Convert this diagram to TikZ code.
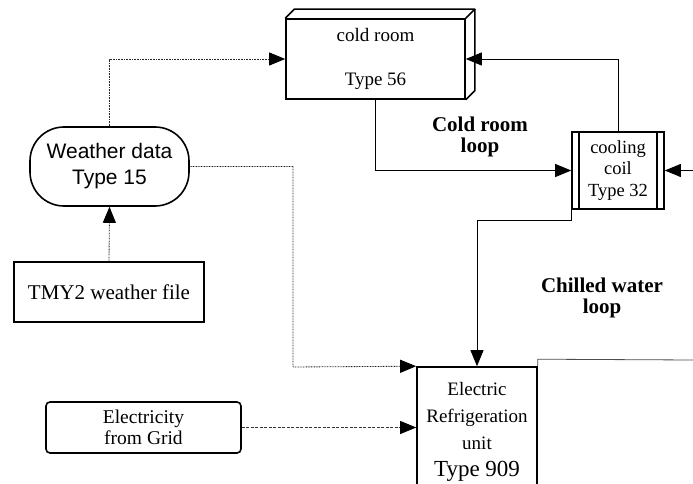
\documentclass[tikz,border=0pt]{standalone}
\usepackage{fontspec}
\setmainfont{Liberation Serif}
\newfontfamily\arialfont{Liberation Sans}
\usetikzlibrary{arrows.meta,calc}
\begin{document}
\begin{tikzpicture}[x=1pt,y=-1pt,
  box/.style={draw, line width=1.6pt, inner sep=0pt, align=center},
  conn/.style={line width=0.8pt},
  dotline/.style={line width=0.85pt, black!85, dash pattern=on 0.85pt off 0.75pt},
  dashline/.style={line width=0.9pt, black!80, dash pattern=on 3pt off 1.5pt},
  arr/.style={-{Triangle[length=16pt,width=13pt,color=black]}},
  lbl/.style={font=\bfseries\fontsize{21}{21}\selectfont, align=center}]
\useasboundingbox (0,0) rectangle (693,484);
\clip (0,0) rectangle (693,484);
% cold room
\node[box, minimum width=179pt, minimum height=80pt,
      font=\fontsize{19}{20}\selectfont] (cold) at (375.5,59)
      {cold room\\[24pt]Type 56};
\draw[line width=1.6pt, line join=round] (cold.north west) -- ++(9,-9) -- ($(cold.north east)+(9,-9)$) -- (cold.north east);
\draw[line width=1.6pt, line join=round] ($(cold.north east)+(9,-9)$) -- ($(cold.south east)+(9,-9)$) -- (cold.south east);
% cooling coil
\node[box, minimum width=92pt, minimum height=77pt,
      font=\fontsize{18.5}{21.5}\selectfont] (coil) at (618,170.5)
      {cooling\\coil\\Type 32};
\draw[line width=1.6pt] ($(coil.north west)+(8,0)$) -- ($(coil.south west)+(8,0)$);
\draw[line width=1.6pt] ($(coil.north east)+(-8,0)$) -- ($(coil.south east)+(-8,0)$);
% weather data
\node[box, minimum width=159pt, minimum height=79pt, rounded corners=34pt,
      font=\arialfont\fontsize{21}{26}\selectfont] (weather) at (109.5,166.5)
      {Weather data\\Type 15};
% TMY2
\node[box, minimum width=190pt, minimum height=60pt,
      font=\fontsize{21}{22}\selectfont] (tmy) at (109,292) {TMY2 weather file};
% electricity
\node[box, minimum width=195pt, minimum height=51pt, rounded corners=4pt,
      font=\fontsize{19.5}{21}\selectfont] (elec) at (143.5,427.5)
      {Electricity\\from Grid};
% electric refrigeration unit
\node[box, minimum width=120pt, minimum height=130pt,
      font=\fontsize{19}{27}\selectfont] (unit) at (477,432)
      {Electric\\Refrigeration\\unit\\{\fontsize{23}{26}\selectfont Type 909}};
% labels
\node[lbl] (lcold) at (480,137) {Cold room\\loop};
\node[lbl] (lchill) at (602,298) {Chilled water\\loop};
% coordinates
\coordinate (j1) at (293,367);
\coordinate (rin) at (693,170.5);
\coordinate (rout) at (693,360);
% connectors
\draw[dotline, arr] (weather.north) |- (cold.west);
\draw[dotline, arr] (weather.east) -| (j1) -- (unit.north west);
\draw[dotline, arr] (tmy.north) -- (weather.south);
\draw[dashline, arr] (elec.east) -- (elec.east -| unit.west);
\draw[conn, arr] (cold.south) |- (coil.west);
\draw[conn, arr] (coil.north) |- (cold.east);
\draw[conn, arr] (rin) -- (coil.east);
\draw[conn, arr] (coil.south west) -- ++(0,11) -| (unit.north);
\draw[conn, black!70] (unit.north east) -- ++(0,-7) -- (rout);
\end{tikzpicture}
\end{document}
